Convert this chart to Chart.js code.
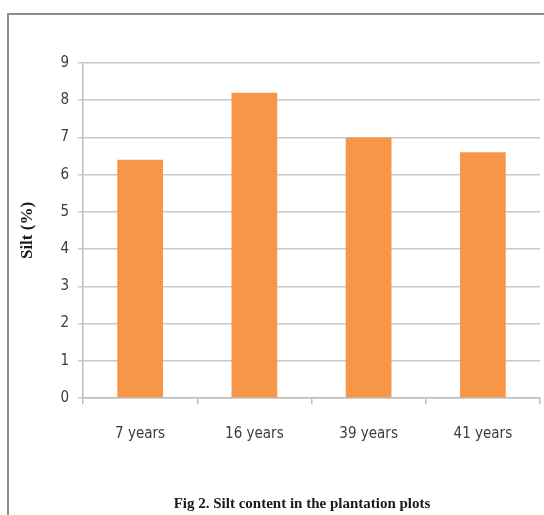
<!DOCTYPE html>
<html>
<head>
<meta charset="utf-8">
<title>Silt content</title>
<script src="https://cdn.jsdelivr.net/npm/chart.js@4/dist/chart.umd.min.js"></script>
<style>
  html, body { margin: 0; padding: 0; background: #fff; }
  #wrap { width: 544px; height: 515px; }
</style>
</head>
<body>
<div id="wrap"><canvas id="c" width="544" height="515"></canvas></div>
<script>
// Plantation age classes and their silt percentage
const categories = ['7 years', '16 years', '39 years', '41 years'];
const siltValues = [6.4, 8.2, 7.0, 6.6];
const yTicks = [0, 1, 2, 3, 4, 5, 6, 7, 8, 9];

const tickFont = { family: '"DejaVu Sans Condensed", "Liberation Sans Narrow", "Liberation Sans", sans-serif', style: 'condensed', size: 15 };
const serifBold = { family: '"Liberation Serif", "Times New Roman", serif', size: 15, weight: 'bold' };

// Grey frame along the top and left edges of the figure
const framePlugin = {
  id: 'frame',
  beforeDraw(chart) {
    const ctx = chart.ctx;
    ctx.save();
    ctx.fillStyle = '#fff';
    ctx.fillRect(0, 0, chart.width, chart.height);
    ctx.strokeStyle = '#8c8c8c';
    ctx.lineWidth = 2;
    ctx.beginPath();
    ctx.moveTo(8, chart.height);
    ctx.lineTo(8, 14);
    ctx.lineTo(chart.width, 14);
    ctx.stroke();
    ctx.restore();
  }
};

// The caption sits a little right of the canvas centre
const captionShift = {
  id: 'captionShift',
  afterLayout(chart) {
    if (chart.titleBlock) {
      chart.titleBlock.left = 64;
    }
  }
};

new Chart(document.getElementById('c'), {
  type: 'bar',
  data: {
    labels: categories,
    datasets: [{
      label: 'Silt (%)',
      data: siltValues,
      backgroundColor: '#F79646',
      borderWidth: 0,
      barPercentage: 0.4,
      categoryPercentage: 1.0
    }]
  },
  options: {
    responsive: false,
    animation: false,
    devicePixelRatio: 1,
    layout: { padding: { top: 63, left: 10, right: 4, bottom: 1 } },
    plugins: {
      legend: { display: false },
      tooltip: { enabled: false },
      title: {
        display: true,
        position: 'bottom',
        text: 'Fig 2. Silt content in the plantation plots',
        color: '#1a1a1a',
        font: serifBold,
        padding: { top: 31, bottom: 1 }
      }
    },
    scales: {
      x: {
        offset: true,
        grid: {
          offset: true,
          drawOnChartArea: false,
          drawTicks: true,
          tickLength: 6,
          color: '#bdbdbd',
          lineWidth: 1.5
        },
        border: { color: '#bdbdbd', width: 1.5 },
        ticks: { color: '#3c3c3c', font: tickFont, padding: 21 }
      },
      y: {
        min: 0,
        max: 9,
        afterBuildTicks(scale) {
          scale.ticks = yTicks.map(v => ({ value: v }));
        },
        afterFit(scale) {
          scale.width = 73;
        },
        grid: {
          color: '#c8c8c8',
          lineWidth: 1.5,
          drawTicks: true,
          tickLength: 5
        },
        border: { color: '#bdbdbd', width: 1.5 },
        ticks: { color: '#3c3c3c', font: tickFont, padding: 9 },
        title: {
          display: true,
          text: 'Silt (%)',
          color: '#1a1a1a',
          font: { family: serifBold.family, size: 17, weight: 'bold' },
          padding: { top: 7, bottom: 0 }
        }
      }
    }
  },
  plugins: [framePlugin, captionShift]
});
</script>
</body>
</html>
